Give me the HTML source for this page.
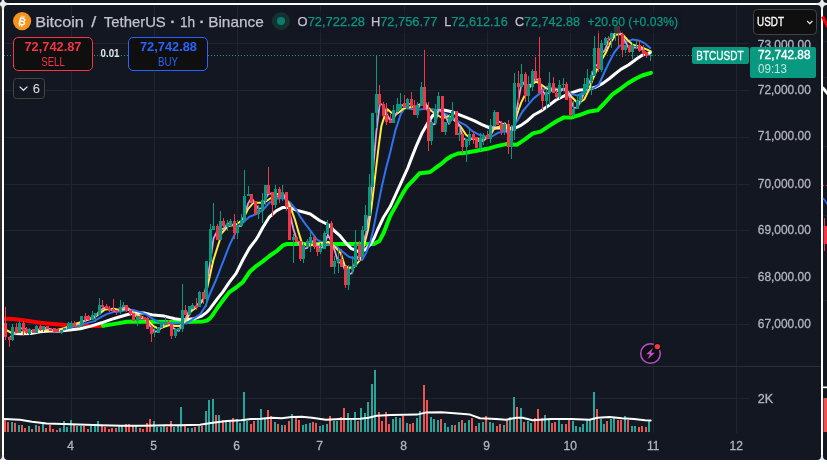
<!DOCTYPE html>
<html><head><meta charset="utf-8"><title>BTCUSDT</title>
<style>html,body{margin:0;padding:0;background:#fff;width:827px;height:464px;overflow:hidden;font-family:"Liberation Sans",sans-serif}</style></head>
<body>
<svg width="827" height="464" viewBox="0 0 827 464" style="display:block;position:absolute;left:0;top:0;will-change:transform;filter:opacity(0.9999)" font-family="Liberation Sans, sans-serif">
<rect x="0" y="0" width="827" height="464" fill="#ffffff"/>
<rect x="-3" y="-2" width="12" height="12" fill="#ececec"/>
<rect x="816" y="-2" width="12" height="12" fill="#ececec"/>
<rect x="-3" y="455" width="12" height="12" fill="#ececec"/>
<rect x="816" y="455" width="12" height="12" fill="#ececec"/>
<rect x="0" y="460" width="827" height="4" fill="#ffffff"/>
<rect x="-20" y="-20" width="22" height="23" rx="4" fill="#131722"/>
<rect x="4" y="-20" width="817" height="23" rx="4" fill="#131722"/>
<rect x="823" y="-20" width="30" height="23" rx="4" fill="#131722"/>
<rect x="-20" y="5" width="22" height="455" rx="4" fill="#2e2e2e"/>
<rect x="823" y="5" width="30" height="455" rx="4" fill="#131722"/>
<g>
<rect x="823" y="41" width="4" height="1" fill="#20242f"/><rect x="823" y="77" width="4" height="1" fill="#20242f"/><rect x="823" y="146" width="4" height="1" fill="#20242f"/><rect x="823" y="215" width="4" height="1" fill="#20242f"/><rect x="823" y="300" width="4" height="1" fill="#20242f"/>
<path d="M822.5 16.5 L828 27" stroke="#ff0000" stroke-width="3.2" fill="none"/>
<path d="M822.5 87.5 L828 94" stroke="#ffffff" stroke-width="3" fill="none"/>
<path d="M823 185.5H827" stroke="#f23645" stroke-width="1" stroke-dasharray="1 2"/>
<path d="M823 198 L828 205" stroke="#2a6ef0" stroke-width="1.5" fill="none"/>
<rect x="824" y="218" width="1" height="33" fill="#f23645"/><rect x="823.6" y="226" width="4" height="18" fill="#f23645"/>
<rect x="823.5" y="398" width="4" height="34" fill="#ef5350"/>
<rect x="823" y="386.5" width="4" height="1.7" fill="#ffffff"/>
</g>
<rect x="4" y="5" width="817" height="455" rx="4" fill="#131722"/>
<clipPath id="cp"><rect x="4" y="5" width="745.5" height="427.5"/></clipPath>
<rect x="71" y="5" width="1" height="428" fill="#20242f"/>
<rect x="154" y="5" width="1" height="428" fill="#20242f"/>
<rect x="237" y="5" width="1" height="428" fill="#20242f"/>
<rect x="320" y="5" width="1" height="428" fill="#20242f"/>
<rect x="404" y="5" width="1" height="428" fill="#20242f"/>
<rect x="487" y="5" width="1" height="428" fill="#20242f"/>
<rect x="570" y="5" width="1" height="428" fill="#20242f"/>
<rect x="653" y="5" width="1" height="428" fill="#20242f"/>
<rect x="736" y="5" width="1" height="428" fill="#20242f"/>
<rect x="4" y="43" width="745" height="1" fill="#20242f"/>
<rect x="4" y="90" width="745" height="1" fill="#20242f"/>
<rect x="4" y="137" width="745" height="1" fill="#20242f"/>
<rect x="4" y="184" width="745" height="1" fill="#20242f"/>
<rect x="4" y="230" width="745" height="1" fill="#20242f"/>
<rect x="4" y="277" width="745" height="1" fill="#20242f"/>
<rect x="4" y="324" width="745" height="1" fill="#20242f"/>
<rect x="4" y="398" width="745" height="1" fill="#20242f"/>
<rect x="4" y="366" width="817" height="1" fill="#2a2e39"/>
<g clip-path="url(#cp)">
<rect x="4" y="420" width="2" height="12" fill="#ef5350"/>
<rect x="7" y="422" width="2" height="10" fill="#ef5350"/>
<rect x="11" y="422" width="2" height="10" fill="#26a69a"/>
<rect x="14" y="423" width="2" height="9" fill="#ef5350"/>
<rect x="18" y="425" width="2" height="7" fill="#26a69a"/>
<rect x="21" y="425" width="2" height="7" fill="#ef5350"/>
<rect x="24" y="428" width="2" height="4" fill="#ef5350"/>
<rect x="28" y="426" width="2" height="6" fill="#26a69a"/>
<rect x="31" y="429" width="2" height="3" fill="#ef5350"/>
<rect x="35" y="425" width="2" height="7" fill="#26a69a"/>
<rect x="38" y="426" width="2" height="6" fill="#ef5350"/>
<rect x="42" y="424" width="2" height="8" fill="#26a69a"/>
<rect x="45" y="428" width="2" height="4" fill="#ef5350"/>
<rect x="49" y="425" width="2" height="7" fill="#ef5350"/>
<rect x="52" y="429" width="2" height="3" fill="#ef5350"/>
<rect x="56" y="430" width="2" height="2" fill="#ef5350"/>
<rect x="59" y="428" width="2" height="4" fill="#26a69a"/>
<rect x="63" y="421" width="2" height="11" fill="#26a69a"/>
<rect x="66" y="427" width="2" height="5" fill="#26a69a"/>
<rect x="70" y="420" width="2" height="12" fill="#26a69a"/>
<rect x="73" y="425" width="2" height="7" fill="#ef5350"/>
<rect x="76" y="426" width="2" height="6" fill="#26a69a"/>
<rect x="80" y="426" width="2" height="6" fill="#26a69a"/>
<rect x="83" y="426" width="2" height="6" fill="#ef5350"/>
<rect x="87" y="429" width="2" height="3" fill="#ef5350"/>
<rect x="90" y="426" width="2" height="6" fill="#26a69a"/>
<rect x="94" y="426" width="2" height="6" fill="#26a69a"/>
<rect x="97" y="421" width="2" height="11" fill="#26a69a"/>
<rect x="101" y="426" width="2" height="6" fill="#ef5350"/>
<rect x="104" y="427" width="2" height="5" fill="#ef5350"/>
<rect x="108" y="429" width="2" height="3" fill="#ef5350"/>
<rect x="111" y="428" width="2" height="4" fill="#ef5350"/>
<rect x="115" y="428" width="2" height="4" fill="#ef5350"/>
<rect x="118" y="426" width="2" height="6" fill="#26a69a"/>
<rect x="121" y="426" width="2" height="6" fill="#26a69a"/>
<rect x="125" y="424" width="2" height="8" fill="#ef5350"/>
<rect x="128" y="424" width="2" height="8" fill="#ef5350"/>
<rect x="132" y="426" width="2" height="6" fill="#ef5350"/>
<rect x="135" y="426" width="2" height="6" fill="#26a69a"/>
<rect x="139" y="428" width="2" height="4" fill="#ef5350"/>
<rect x="142" y="429" width="2" height="3" fill="#ef5350"/>
<rect x="146" y="423" width="2" height="9" fill="#ef5350"/>
<rect x="149" y="419" width="2" height="13" fill="#ef5350"/>
<rect x="153" y="421" width="2" height="11" fill="#26a69a"/>
<rect x="156" y="427" width="2" height="5" fill="#26a69a"/>
<rect x="160" y="427" width="2" height="5" fill="#26a69a"/>
<rect x="163" y="426" width="2" height="6" fill="#26a69a"/>
<rect x="166" y="427" width="2" height="5" fill="#ef5350"/>
<rect x="170" y="421" width="2" height="11" fill="#ef5350"/>
<rect x="173" y="427" width="2" height="5" fill="#26a69a"/>
<rect x="177" y="426" width="2" height="6" fill="#26a69a"/>
<rect x="180" y="407" width="2" height="25" fill="#26a69a"/>
<rect x="184" y="426" width="2" height="6" fill="#ef5350"/>
<rect x="187" y="428" width="2" height="4" fill="#26a69a"/>
<rect x="191" y="428" width="2" height="4" fill="#26a69a"/>
<rect x="194" y="427" width="2" height="5" fill="#ef5350"/>
<rect x="198" y="426" width="2" height="6" fill="#26a69a"/>
<rect x="201" y="426" width="2" height="6" fill="#ef5350"/>
<rect x="205" y="411" width="2" height="21" fill="#26a69a"/>
<rect x="208" y="400" width="2" height="32" fill="#26a69a"/>
<rect x="212" y="399" width="2" height="33" fill="#26a69a"/>
<rect x="215" y="415" width="2" height="17" fill="#ef5350"/>
<rect x="218" y="415" width="2" height="17" fill="#26a69a"/>
<rect x="222" y="420" width="2" height="12" fill="#ef5350"/>
<rect x="225" y="420" width="2" height="12" fill="#26a69a"/>
<rect x="229" y="420" width="2" height="12" fill="#26a69a"/>
<rect x="232" y="418" width="2" height="14" fill="#ef5350"/>
<rect x="236" y="419" width="2" height="13" fill="#26a69a"/>
<rect x="239" y="423" width="2" height="9" fill="#26a69a"/>
<rect x="243" y="392" width="2" height="40" fill="#26a69a"/>
<rect x="246" y="421" width="2" height="11" fill="#26a69a"/>
<rect x="250" y="424" width="2" height="8" fill="#ef5350"/>
<rect x="253" y="421" width="2" height="11" fill="#ef5350"/>
<rect x="257" y="420" width="2" height="12" fill="#26a69a"/>
<rect x="260" y="409" width="2" height="23" fill="#26a69a"/>
<rect x="264" y="419" width="2" height="13" fill="#26a69a"/>
<rect x="267" y="410" width="2" height="22" fill="#ef5350"/>
<rect x="270" y="416" width="2" height="16" fill="#ef5350"/>
<rect x="274" y="422" width="2" height="10" fill="#26a69a"/>
<rect x="277" y="424" width="2" height="8" fill="#ef5350"/>
<rect x="281" y="425" width="2" height="7" fill="#26a69a"/>
<rect x="284" y="425" width="2" height="7" fill="#ef5350"/>
<rect x="288" y="421" width="2" height="11" fill="#ef5350"/>
<rect x="291" y="414" width="2" height="18" fill="#26a69a"/>
<rect x="295" y="418" width="2" height="14" fill="#ef5350"/>
<rect x="298" y="420" width="2" height="12" fill="#ef5350"/>
<rect x="302" y="425" width="2" height="7" fill="#26a69a"/>
<rect x="305" y="424" width="2" height="8" fill="#26a69a"/>
<rect x="309" y="423" width="2" height="9" fill="#26a69a"/>
<rect x="312" y="422" width="2" height="10" fill="#ef5350"/>
<rect x="315" y="423" width="2" height="9" fill="#ef5350"/>
<rect x="319" y="426" width="2" height="6" fill="#26a69a"/>
<rect x="322" y="425" width="2" height="7" fill="#26a69a"/>
<rect x="326" y="424" width="2" height="8" fill="#26a69a"/>
<rect x="329" y="416" width="2" height="16" fill="#ef5350"/>
<rect x="333" y="421" width="2" height="11" fill="#26a69a"/>
<rect x="336" y="421" width="2" height="11" fill="#26a69a"/>
<rect x="340" y="417" width="2" height="15" fill="#ef5350"/>
<rect x="343" y="408" width="2" height="24" fill="#ef5350"/>
<rect x="347" y="413" width="2" height="19" fill="#26a69a"/>
<rect x="350" y="420" width="2" height="12" fill="#26a69a"/>
<rect x="354" y="412" width="2" height="20" fill="#26a69a"/>
<rect x="357" y="421" width="2" height="11" fill="#ef5350"/>
<rect x="360" y="408" width="2" height="24" fill="#26a69a"/>
<rect x="364" y="413" width="2" height="19" fill="#26a69a"/>
<rect x="367" y="402" width="2" height="30" fill="#26a69a"/>
<rect x="371" y="384" width="2" height="48" fill="#26a69a"/>
<rect x="374" y="370" width="2" height="62" fill="#26a69a"/>
<rect x="378" y="412" width="2" height="20" fill="#ef5350"/>
<rect x="381" y="421" width="2" height="11" fill="#ef5350"/>
<rect x="385" y="412" width="2" height="20" fill="#ef5350"/>
<rect x="388" y="424" width="2" height="8" fill="#ef5350"/>
<rect x="392" y="419" width="2" height="13" fill="#26a69a"/>
<rect x="395" y="417" width="2" height="15" fill="#26a69a"/>
<rect x="399" y="418" width="2" height="14" fill="#26a69a"/>
<rect x="402" y="416" width="2" height="16" fill="#ef5350"/>
<rect x="406" y="423" width="2" height="9" fill="#26a69a"/>
<rect x="409" y="424" width="2" height="8" fill="#ef5350"/>
<rect x="412" y="423" width="2" height="9" fill="#ef5350"/>
<rect x="416" y="418" width="2" height="14" fill="#26a69a"/>
<rect x="419" y="411" width="2" height="21" fill="#26a69a"/>
<rect x="423" y="385" width="2" height="47" fill="#ef5350"/>
<rect x="426" y="400" width="2" height="32" fill="#ef5350"/>
<rect x="430" y="417" width="2" height="15" fill="#26a69a"/>
<rect x="433" y="419" width="2" height="13" fill="#26a69a"/>
<rect x="437" y="420" width="2" height="12" fill="#26a69a"/>
<rect x="440" y="419" width="2" height="13" fill="#ef5350"/>
<rect x="444" y="423" width="2" height="9" fill="#26a69a"/>
<rect x="447" y="427" width="2" height="5" fill="#26a69a"/>
<rect x="451" y="425" width="2" height="7" fill="#26a69a"/>
<rect x="454" y="425" width="2" height="7" fill="#ef5350"/>
<rect x="458" y="422" width="2" height="10" fill="#26a69a"/>
<rect x="461" y="420" width="2" height="12" fill="#ef5350"/>
<rect x="464" y="423" width="2" height="9" fill="#26a69a"/>
<rect x="468" y="420" width="2" height="12" fill="#26a69a"/>
<rect x="471" y="418" width="2" height="14" fill="#ef5350"/>
<rect x="475" y="426" width="2" height="6" fill="#ef5350"/>
<rect x="478" y="423" width="2" height="9" fill="#26a69a"/>
<rect x="482" y="422" width="2" height="10" fill="#26a69a"/>
<rect x="485" y="416" width="2" height="16" fill="#ef5350"/>
<rect x="489" y="422" width="2" height="10" fill="#26a69a"/>
<rect x="492" y="423" width="2" height="9" fill="#26a69a"/>
<rect x="496" y="426" width="2" height="6" fill="#ef5350"/>
<rect x="499" y="424" width="2" height="8" fill="#ef5350"/>
<rect x="503" y="425" width="2" height="7" fill="#26a69a"/>
<rect x="506" y="420" width="2" height="12" fill="#ef5350"/>
<rect x="509" y="417" width="2" height="15" fill="#26a69a"/>
<rect x="513" y="397" width="2" height="35" fill="#26a69a"/>
<rect x="516" y="407" width="2" height="25" fill="#ef5350"/>
<rect x="520" y="408" width="2" height="24" fill="#26a69a"/>
<rect x="523" y="422" width="2" height="10" fill="#ef5350"/>
<rect x="527" y="421" width="2" height="11" fill="#26a69a"/>
<rect x="530" y="423" width="2" height="9" fill="#26a69a"/>
<rect x="534" y="418" width="2" height="14" fill="#ef5350"/>
<rect x="537" y="409" width="2" height="23" fill="#ef5350"/>
<rect x="541" y="418" width="2" height="14" fill="#ef5350"/>
<rect x="544" y="415" width="2" height="17" fill="#26a69a"/>
<rect x="548" y="420" width="2" height="12" fill="#26a69a"/>
<rect x="551" y="423" width="2" height="9" fill="#ef5350"/>
<rect x="554" y="422" width="2" height="10" fill="#ef5350"/>
<rect x="558" y="420" width="2" height="12" fill="#26a69a"/>
<rect x="561" y="424" width="2" height="8" fill="#26a69a"/>
<rect x="565" y="424" width="2" height="8" fill="#ef5350"/>
<rect x="568" y="420" width="2" height="12" fill="#ef5350"/>
<rect x="572" y="421" width="2" height="11" fill="#26a69a"/>
<rect x="575" y="426" width="2" height="6" fill="#26a69a"/>
<rect x="579" y="427" width="2" height="5" fill="#26a69a"/>
<rect x="582" y="424" width="2" height="8" fill="#26a69a"/>
<rect x="586" y="420" width="2" height="12" fill="#26a69a"/>
<rect x="589" y="420" width="2" height="12" fill="#26a69a"/>
<rect x="593" y="392" width="2" height="40" fill="#26a69a"/>
<rect x="596" y="409" width="2" height="23" fill="#ef5350"/>
<rect x="600" y="419" width="2" height="13" fill="#26a69a"/>
<rect x="603" y="424" width="2" height="8" fill="#26a69a"/>
<rect x="606" y="421" width="2" height="11" fill="#ef5350"/>
<rect x="610" y="419" width="2" height="13" fill="#26a69a"/>
<rect x="613" y="418" width="2" height="14" fill="#26a69a"/>
<rect x="617" y="420" width="2" height="12" fill="#ef5350"/>
<rect x="620" y="420" width="2" height="12" fill="#ef5350"/>
<rect x="624" y="416" width="2" height="16" fill="#26a69a"/>
<rect x="627" y="420" width="2" height="12" fill="#ef5350"/>
<rect x="631" y="426" width="2" height="6" fill="#26a69a"/>
<rect x="634" y="426" width="2" height="6" fill="#26a69a"/>
<rect x="638" y="427" width="2" height="5" fill="#ef5350"/>
<rect x="641" y="426" width="2" height="6" fill="#ef5350"/>
<rect x="645" y="427" width="2" height="5" fill="#ef5350"/>
<rect x="648" y="421" width="2" height="11" fill="#26a69a"/>
<path d="M4.5 419.1 L20.0 419.7 L32.0 421.7 L46.6 423.4 L71.0 424.2 L101.0 425.2 L121.6 425.8 L142.0 425.8 L166.0 425.2 L180.0 425.2 L200.0 424.8 L212.7 422.7 L226.9 421.1 L241.0 420.3 L251.0 419.1 L261.0 418.7 L271.5 417.7 L281.6 418.3 L291.7 417.1 L301.9 416.7 L312.0 417.7 L326.0 419.7 L340.0 419.1 L360.0 418.7 L368.6 417.7 L376.7 415.7 L391.0 415.0 L417.0 414.6 L425.4 412.6 L441.6 412.2 L457.8 413.6 L470.0 414.6 L480.0 418.3 L486.0 418.5 L496.0 419.1 L506.0 419.7 L516.5 417.7 L522.5 417.7 L532.7 420.3 L551.0 419.1 L571.0 419.1 L589.4 419.7 L597.5 417.7 L609.7 417.1 L621.9 418.3 L634.0 419.1 L645.0 420.3 L650.7 420.4" fill="none" stroke="#ffffff" stroke-width="2" stroke-linejoin="round" stroke-linecap="round" />
<path d="M4 55.5H821" stroke="#089981" stroke-width="1" stroke-dasharray="1 2"/>
<path d="M4.7 318.7 L13.4 319.0 L26.7 320.7 L40.1 322.7 L53.5 324.1 L65.5 325.1 L80.0 325.8 L93.6 326.1 L103.5 325.8" fill="none" stroke="#ff0000" stroke-width="4" stroke-linejoin="round" stroke-linecap="round" />
<path d="M103.0 325.8 L113.4 324.1 L126.7 321.8 L140.1 321.4 L153.5 321.8 L166.8 322.1 L180.2 322.1 L193.6 321.8 L203.0 321.4 L207.0 320.5 L210.0 318.4 L213.0 314.5 L218.0 307.0 L224.7 298.0 L229.4 292.1 L236.1 287.5 L242.8 282.1 L249.5 272.1 L256.2 266.1 L262.8 261.4 L269.5 256.0 L276.2 251.4 L282.9 245.4 L286.9 244.0 L306.0 244.0 L340.0 244.0 L374.0 244.0 L379.6 240.7 L383.6 233.0 L390.1 216.1 L396.8 204.1 L403.5 192.1 L407.5 186.0 L412.8 180.7 L419.5 173.3 L424.9 172.7 L430.2 172.0 L435.5 168.0 L440.9 164.2 L446.3 159.5 L451.6 156.0 L458.0 153.5 L466.0 152.8 L476.7 150.8 L487.4 148.8 L496.8 146.1 L506.1 144.1 L516.8 144.8 L524.9 139.4 L532.9 133.4 L540.5 131.6 L548.5 126.4 L556.0 121.5 L564.0 117.4 L572.0 117.4 L580.0 114.8 L589.5 111.4 L597.5 110.3 L604.2 103.5 L612.2 94.7 L620.2 89.0 L627.5 83.5 L635.5 78.7 L642.2 75.5 L650.9 72.8" fill="none" stroke="#00ff00" stroke-width="4" stroke-linejoin="round" stroke-linecap="round" />
<path d="M12.4 333.6 L14.4 333.6 L21.4 333.8 L30.7 333.4 L40.1 331.8 L49.5 331.0 L60.2 331.0 L69.5 330.1 L80.2 328.8 L90.9 326.1 L101.6 322.8 L113.4 318.7 L126.7 314.7 L134.8 312.7 L144.1 313.0 L153.5 315.1 L164.2 316.1 L174.9 318.7 L182.9 320.1 L193.6 318.7 L201.6 316.1 L207.0 312.1 L210.0 308.7 L218.0 298.0 L222.7 292.1 L229.4 282.1 L236.1 273.4 L242.8 260.0 L249.5 248.0 L256.2 239.3 L258.2 236.0 L262.8 227.5 L269.5 216.8 L276.2 210.8 L282.9 207.4 L289.6 207.4 L296.3 210.1 L306.0 212.8 L310.3 214.0 L319.6 220.5 L328.8 225.0 L334.0 230.5 L339.5 235.3 L346.2 243.4 L351.5 248.7 L358.2 251.4 L364.9 250.0 L370.2 244.7 L374.2 238.0 L377.5 230.0 L383.4 217.5 L390.1 206.8 L396.8 192.1 L403.5 177.4 L407.8 168.0 L411.5 158.1 L416.8 144.8 L422.2 132.7 L427.5 123.4 L432.9 115.4 L438.2 110.7 L443.6 110.0 L451.0 111.5 L459.0 114.6 L466.0 117.4 L474.0 120.7 L482.0 124.7 L490.0 128.0 L498.0 128.0 L506.0 127.4 L514.0 128.7 L520.9 125.4 L527.5 120.7 L534.2 114.7 L541.0 111.0 L548.0 106.1 L556.0 100.0 L564.0 96.0 L572.0 92.7 L580.0 90.0 L588.0 89.4 L596.0 87.0 L602.8 83.4 L609.5 78.5 L614.9 74.0 L620.8 69.4 L628.8 64.8 L636.8 58.8 L642.9 54.7 L650.2 52.7" fill="none" stroke="#ffffff" stroke-width="3" stroke-linejoin="round" stroke-linecap="round" />
<path d="M62.0 329.3 L68.0 328.3 L75.0 326.0 L85.6 323.4 L93.6 321.4 L100.5 317.4 L106.7 314.1 L113.4 312.1 L120.0 311.4 L126.7 310.0 L133.4 310.0 L140.1 312.1 L146.8 314.7 L153.5 319.4 L160.2 322.8 L166.8 322.8 L173.5 323.4 L180.2 323.4 L186.9 323.2 L193.6 318.7 L200.3 314.1 L205.6 306.0 L209.0 296.0 L216.0 280.0 L222.7 262.7 L229.4 245.4 L234.4 235.0 L238.0 227.0 L242.8 222.8 L249.5 216.8 L256.2 214.1 L262.8 210.1 L269.5 202.7 L276.2 198.7 L282.9 198.0 L289.6 202.0 L296.3 210.0 L300.3 216.8 L306.0 224.8 L310.0 230.0 L316.7 239.4 L323.4 243.4 L330.1 244.7 L336.8 246.7 L342.1 251.4 L348.8 256.7 L355.5 258.7 L362.2 260.0 L366.2 252.7 L370.2 242.0 L373.2 230.0 L376.7 212.1 L382.1 185.4 L386.1 168.0 L390.1 152.8 L395.5 130.1 L400.8 114.0 L404.8 108.0 L410.2 108.7 L416.8 110.0 L424.9 108.7 L432.9 109.3 L440.9 111.3 L448.9 115.8 L457.0 120.9 L466.0 125.4 L472.7 131.4 L479.4 134.8 L486.0 136.8 L492.8 136.0 L498.0 132.8 L504.8 131.4 L510.0 131.4 L514.0 126.0 L518.0 119.4 L522.5 111.5 L527.0 106.1 L533.4 98.6 L540.0 93.4 L546.8 86.8 L553.5 88.1 L560.0 89.4 L566.8 91.4 L572.2 94.1 L577.5 95.5 L582.9 92.8 L588.2 89.4 L593.6 88.1 L598.8 84.8 L603.8 73.5 L609.0 62.5 L614.1 52.7 L619.5 46.0 L626.1 42.0 L632.8 39.4 L639.5 40.7 L644.9 43.4 L650.2 48.0" fill="none" stroke="#2f72f2" stroke-width="2" stroke-linejoin="round" stroke-linecap="round" />
<path d="M6.0 330.0 L12.0 333.0 L25.0 332.0 L40.0 330.0 L55.0 330.5 L65.0 328.0 L75.0 324.0 L83.0 321.4 L93.6 318.0 L100.8 312.6 L105.0 309.4 L113.4 308.7 L120.0 310.0 L126.7 308.7 L133.4 312.7 L140.1 316.1 L146.8 319.4 L153.5 326.1 L158.8 328.8 L164.2 326.8 L169.5 325.0 L174.9 326.1 L180.2 326.1 L185.6 320.7 L190.9 311.4 L196.3 307.4 L201.6 302.0 L205.6 294.0 L207.4 286.8 L213.4 260.0 L219.4 241.3 L221.4 233.5 L228.0 226.1 L236.1 224.8 L242.8 219.5 L248.1 208.8 L253.5 202.7 L258.8 202.7 L264.2 202.7 L270.9 198.0 L277.5 194.0 L284.2 196.0 L289.6 204.7 L294.9 219.5 L298.2 231.0 L302.0 243.4 L308.7 245.4 L315.4 244.7 L322.1 242.7 L328.8 242.0 L335.5 247.4 L340.8 253.4 L344.8 266.0 L348.8 268.0 L354.2 266.8 L359.5 260.7 L363.5 247.4 L368.0 230.0 L371.4 208.1 L374.1 185.4 L376.1 168.0 L378.7 146.1 L381.4 126.0 L384.8 115.4 L387.4 109.3 L391.4 112.7 L395.5 114.7 L399.5 112.0 L403.5 108.4 L408.8 107.5 L416.8 106.0 L422.2 103.5 L426.2 104.8 L430.2 110.0 L435.6 114.0 L442.2 118.0 L448.9 116.3 L454.8 120.5 L460.7 126.7 L466.0 134.8 L471.4 138.8 L476.7 138.8 L484.8 138.8 L490.0 136.0 L494.0 128.7 L499.5 126.7 L504.8 123.4 L508.8 128.7 L512.8 130.0 L516.2 117.4 L518.5 110.0 L521.4 102.1 L525.4 94.1 L530.7 85.4 L536.1 81.4 L541.4 84.8 L546.8 88.8 L553.5 89.4 L558.8 90.1 L564.2 88.8 L568.2 92.8 L572.2 97.5 L576.2 101.5 L580.2 102.1 L584.2 99.5 L588.6 90.5 L592.4 80.0 L596.5 70.5 L601.6 60.0 L605.6 53.0 L610.1 43.4 L615.5 34.7 L622.1 34.0 L627.5 40.0 L632.8 44.7 L639.5 46.7 L644.9 48.7 L650.9 51.4" fill="none" stroke="#ffeb3b" stroke-width="2" stroke-linejoin="round" stroke-linecap="round" />
<path d="M9.1 338.7 L12.6 334.8 L16.1 333.3 L19.5 327.5 L23.0 329.0 L26.5 329.2 L29.9 331.2 L33.4 331.7 L36.9 329.2 L40.3 329.6 L43.8 327.5 L47.2 328.6 L50.7 329.1 L54.2 330.9 L57.6 331.7 L61.1 331.3 L64.6 329.9 L68.0 326.9 L71.5 324.7 L75.0 324.5 L78.4 325.2 L81.9 322.7 L85.4 320.0 L88.8 318.5 L92.3 318.0 L95.8 316.0 L99.2 311.2 L102.7 308.7 L106.1 307.4 L109.6 309.3 L113.1 310.4 L116.5 311.3 L120.0 309.9 L123.5 307.9 L126.9 307.5 L130.4 309.8 L133.9 315.1 L137.3 316.9 L140.8 318.3 L144.2 318.1 L147.7 322.4 L151.2 327.6 L154.6 331.7 L158.1 331.2 L161.6 327.2 L165.0 323.8 L168.5 322.8 L172.0 327.3 L175.4 329.6 L178.9 330.9 L182.4 322.4 L185.8 318.0 L189.3 310.5 L192.8 308.8 L196.2 306.3 L199.7 301.8 L203.1 299.9 L206.6 284.2 L210.1 263.0 L213.5 238.5 L217.0 231.6 L220.5 229.0 L223.9 229.0 L227.4 223.7 L230.9 223.8 L234.3 226.0 L237.8 226.2 L241.2 225.9 L244.7 213.7 L248.2 203.4 L251.6 197.6 L255.1 203.6 L258.6 208.9 L262.0 208.0 L265.5 198.3 L269.0 193.0 L272.4 194.6 L275.9 195.9 L279.4 197.2 L282.8 192.9 L286.3 199.1 L289.8 213.1 L293.2 228.3 L296.7 239.8 L300.1 246.0 L303.6 248.5 L307.1 248.1 L310.5 241.0 L314.0 241.7 L317.5 245.4 L320.9 248.9 L324.4 244.4 L327.9 234.8 L331.3 241.3 L334.8 250.7 L338.2 262.5 L341.7 262.5 L345.2 270.3 L348.6 273.9 L352.1 273.3 L355.6 259.7 L359.0 255.7 L362.5 243.6 L366.0 233.9 L369.4 210.6 L372.9 171.6 L376.4 131.4 L379.8 103.9 L383.3 105.0 L386.8 114.3 L390.2 120.5 L393.7 118.5 L397.1 112.3 L400.6 105.7 L404.1 105.0 L407.5 103.4 L411.0 104.3 L414.5 106.7 L417.9 108.7 L421.4 102.5 L424.9 100.7 L428.3 112.9 L431.8 124.5 L435.2 124.0 L438.7 108.7 L442.2 112.1 L445.6 116.5 L449.1 123.8 L452.6 116.7 L456.0 121.0 L459.5 126.3 L463.0 138.3 L466.4 139.9 L469.9 140.1 L473.4 137.4 L476.8 140.3 L480.3 141.6 L483.8 140.5 L487.2 137.4 L490.7 133.2 L494.1 125.4 L497.6 120.9 L501.1 122.7 L504.5 126.7 L508.0 133.8 L511.5 134.1 L514.9 120.3 L518.4 100.3 L521.9 81.2 L525.3 85.6 L528.8 85.1 L532.2 84.0 L535.7 78.3 L539.2 80.9 L542.6 91.0 L546.1 95.4 L549.6 91.9 L553.0 89.4 L556.5 91.0 L560.0 91.9 L563.4 88.7 L566.9 89.6 L570.4 99.4 L573.8 107.7 L577.3 107.9 L580.8 100.9 L584.2 92.7 L587.7 85.3 L591.1 78.9 L594.6 66.9 L598.1 64.0 L601.5 53.6 L605.0 50.2 L608.5 40.2 L611.9 36.6 L615.4 32.5 L618.9 30.3 L622.3 36.0 L625.8 42.7 L629.2 49.1 L632.7 47.4 L636.2 47.6 L639.6 47.4 L643.1 50.5 L646.6 53.8 L650.0 55.0" fill="none" stroke="#d69de0" stroke-width="1.8" stroke-linejoin="round" stroke-linecap="round" />
<rect x="5" y="307" width="1" height="33" fill="#f23645"/>
<rect x="4" y="323" width="3" height="14" fill="#f23645"/>
<rect x="9" y="337" width="1" height="10" fill="#f23645"/>
<rect x="8" y="337" width="3" height="3" fill="#f23645"/>
<rect x="12" y="324" width="1" height="17" fill="#089981"/>
<rect x="11" y="327" width="3" height="13" fill="#089981"/>
<rect x="16" y="323" width="1" height="10" fill="#f23645"/>
<rect x="15" y="327" width="3" height="6" fill="#f23645"/>
<rect x="19" y="321" width="1" height="12" fill="#089981"/>
<rect x="18" y="323" width="3" height="10" fill="#089981"/>
<rect x="23" y="321" width="1" height="15" fill="#f23645"/>
<rect x="22" y="323" width="3" height="8" fill="#f23645"/>
<rect x="26" y="327" width="1" height="7" fill="#f23645"/>
<rect x="25" y="329" width="3" height="4" fill="#f23645"/>
<rect x="29" y="328" width="1" height="7" fill="#089981"/>
<rect x="28" y="329" width="3" height="5" fill="#089981"/>
<rect x="33" y="329" width="1" height="4" fill="#f23645"/>
<rect x="32" y="329" width="3" height="4" fill="#f23645"/>
<rect x="36" y="325" width="1" height="8" fill="#089981"/>
<rect x="35" y="326" width="3" height="7" fill="#089981"/>
<rect x="40" y="325" width="1" height="6" fill="#f23645"/>
<rect x="39" y="326" width="3" height="4" fill="#f23645"/>
<rect x="43" y="326" width="1" height="6" fill="#089981"/>
<rect x="42" y="326" width="3" height="4" fill="#089981"/>
<rect x="47" y="326" width="1" height="3" fill="#f23645"/>
<rect x="46" y="326" width="3" height="3" fill="#f23645"/>
<rect x="50" y="329" width="1" height="2" fill="#f23645"/>
<rect x="49" y="329" width="3" height="2" fill="#f23645"/>
<rect x="54" y="328" width="1" height="4" fill="#f23645"/>
<rect x="53" y="328" width="3" height="4" fill="#f23645"/>
<rect x="57" y="329" width="1" height="3" fill="#f23645"/>
<rect x="56" y="329" width="3" height="3" fill="#f23645"/>
<rect x="61" y="330" width="1" height="4" fill="#089981"/>
<rect x="60" y="330" width="3" height="3" fill="#089981"/>
<rect x="64" y="328" width="1" height="2" fill="#089981"/>
<rect x="63" y="328" width="3" height="2" fill="#089981"/>
<rect x="68" y="322" width="1" height="7" fill="#089981"/>
<rect x="67" y="323" width="3" height="6" fill="#089981"/>
<rect x="71" y="321" width="1" height="6" fill="#089981"/>
<rect x="70" y="323" width="3" height="4" fill="#089981"/>
<rect x="74" y="321" width="1" height="6" fill="#f23645"/>
<rect x="73" y="323" width="3" height="4" fill="#f23645"/>
<rect x="78" y="325" width="1" height="2" fill="#089981"/>
<rect x="77" y="325" width="3" height="2" fill="#089981"/>
<rect x="81" y="316" width="1" height="11" fill="#089981"/>
<rect x="80" y="316" width="3" height="11" fill="#089981"/>
<rect x="85" y="313" width="1" height="8" fill="#f23645"/>
<rect x="84" y="316" width="3" height="3" fill="#f23645"/>
<rect x="88" y="315" width="1" height="5" fill="#f23645"/>
<rect x="87" y="316" width="3" height="4" fill="#f23645"/>
<rect x="92" y="311" width="1" height="9" fill="#089981"/>
<rect x="91" y="315" width="3" height="5" fill="#089981"/>
<rect x="95" y="313" width="1" height="9" fill="#089981"/>
<rect x="94" y="313" width="3" height="3" fill="#089981"/>
<rect x="99" y="298" width="1" height="17" fill="#089981"/>
<rect x="98" y="305" width="3" height="10" fill="#089981"/>
<rect x="102" y="300" width="1" height="8" fill="#f23645"/>
<rect x="101" y="305" width="3" height="2" fill="#f23645"/>
<rect x="106" y="304" width="1" height="5" fill="#f23645"/>
<rect x="105" y="306" width="3" height="3" fill="#f23645"/>
<rect x="109" y="306" width="1" height="6" fill="#f23645"/>
<rect x="108" y="308" width="3" height="3" fill="#f23645"/>
<rect x="113" y="299" width="1" height="12" fill="#f23645"/>
<rect x="112" y="309" width="3" height="2" fill="#f23645"/>
<rect x="116" y="310" width="1" height="5" fill="#f23645"/>
<rect x="115" y="310" width="3" height="2" fill="#f23645"/>
<rect x="120" y="300" width="1" height="14" fill="#089981"/>
<rect x="119" y="307" width="3" height="5" fill="#089981"/>
<rect x="123" y="302" width="1" height="5" fill="#089981"/>
<rect x="122" y="305" width="3" height="2" fill="#089981"/>
<rect x="126" y="305" width="1" height="7" fill="#f23645"/>
<rect x="125" y="305" width="3" height="6" fill="#f23645"/>
<rect x="130" y="310" width="1" height="6" fill="#f23645"/>
<rect x="129" y="310" width="3" height="4" fill="#f23645"/>
<rect x="133" y="313" width="1" height="8" fill="#f23645"/>
<rect x="132" y="313" width="3" height="8" fill="#f23645"/>
<rect x="137" y="316" width="1" height="10" fill="#089981"/>
<rect x="136" y="316" width="3" height="5" fill="#089981"/>
<rect x="140" y="315" width="1" height="4" fill="#f23645"/>
<rect x="139" y="316" width="3" height="2" fill="#f23645"/>
<rect x="144" y="317" width="1" height="3" fill="#f23645"/>
<rect x="143" y="317" width="3" height="3" fill="#f23645"/>
<rect x="147" y="317" width="1" height="12" fill="#f23645"/>
<rect x="146" y="318" width="3" height="11" fill="#f23645"/>
<rect x="151" y="327" width="1" height="15" fill="#f23645"/>
<rect x="150" y="327" width="3" height="7" fill="#f23645"/>
<rect x="154" y="328" width="1" height="9" fill="#089981"/>
<rect x="153" y="332" width="3" height="1" fill="#089981"/>
<rect x="158" y="327" width="1" height="6" fill="#089981"/>
<rect x="157" y="327" width="3" height="6" fill="#089981"/>
<rect x="161" y="322" width="1" height="6" fill="#089981"/>
<rect x="160" y="322" width="3" height="6" fill="#089981"/>
<rect x="165" y="317" width="1" height="8" fill="#089981"/>
<rect x="164" y="322" width="3" height="3" fill="#089981"/>
<rect x="168" y="320" width="1" height="4" fill="#f23645"/>
<rect x="167" y="322" width="3" height="2" fill="#f23645"/>
<rect x="171" y="324" width="1" height="15" fill="#f23645"/>
<rect x="170" y="324" width="3" height="12" fill="#f23645"/>
<rect x="175" y="329" width="1" height="9" fill="#089981"/>
<rect x="174" y="329" width="3" height="7" fill="#089981"/>
<rect x="178" y="328" width="1" height="3" fill="#089981"/>
<rect x="177" y="328" width="3" height="2" fill="#089981"/>
<rect x="182" y="284" width="1" height="48" fill="#089981"/>
<rect x="181" y="310" width="3" height="19" fill="#089981"/>
<rect x="185" y="305" width="1" height="10" fill="#f23645"/>
<rect x="184" y="310" width="3" height="5" fill="#f23645"/>
<rect x="189" y="306" width="1" height="9" fill="#089981"/>
<rect x="188" y="306" width="3" height="9" fill="#089981"/>
<rect x="192" y="303" width="1" height="6" fill="#089981"/>
<rect x="191" y="305" width="3" height="4" fill="#089981"/>
<rect x="196" y="298" width="1" height="12" fill="#f23645"/>
<rect x="195" y="305" width="3" height="3" fill="#f23645"/>
<rect x="199" y="291" width="1" height="16" fill="#089981"/>
<rect x="198" y="292" width="3" height="15" fill="#089981"/>
<rect x="203" y="292" width="1" height="12" fill="#f23645"/>
<rect x="202" y="292" width="3" height="7" fill="#f23645"/>
<rect x="206" y="261" width="1" height="46" fill="#089981"/>
<rect x="205" y="261" width="3" height="38" fill="#089981"/>
<rect x="210" y="224" width="1" height="41" fill="#089981"/>
<rect x="209" y="229" width="3" height="33" fill="#089981"/>
<rect x="213" y="203" width="1" height="27" fill="#089981"/>
<rect x="212" y="226" width="3" height="4" fill="#089981"/>
<rect x="217" y="224" width="1" height="16" fill="#f23645"/>
<rect x="216" y="226" width="3" height="14" fill="#f23645"/>
<rect x="220" y="211" width="1" height="29" fill="#089981"/>
<rect x="219" y="221" width="3" height="19" fill="#089981"/>
<rect x="223" y="218" width="1" height="10" fill="#f23645"/>
<rect x="222" y="221" width="3" height="5" fill="#f23645"/>
<rect x="227" y="220" width="1" height="11" fill="#089981"/>
<rect x="226" y="224" width="3" height="3" fill="#089981"/>
<rect x="230" y="219" width="1" height="7" fill="#089981"/>
<rect x="229" y="221" width="3" height="5" fill="#089981"/>
<rect x="234" y="214" width="1" height="25" fill="#f23645"/>
<rect x="233" y="221" width="3" height="12" fill="#f23645"/>
<rect x="237" y="220" width="1" height="19" fill="#089981"/>
<rect x="236" y="225" width="3" height="8" fill="#089981"/>
<rect x="241" y="214" width="1" height="12" fill="#089981"/>
<rect x="240" y="220" width="3" height="6" fill="#089981"/>
<rect x="244" y="170" width="1" height="51" fill="#089981"/>
<rect x="243" y="196" width="3" height="25" fill="#089981"/>
<rect x="248" y="186" width="1" height="10" fill="#089981"/>
<rect x="247" y="194" width="3" height="2" fill="#089981"/>
<rect x="251" y="194" width="1" height="10" fill="#f23645"/>
<rect x="250" y="194" width="3" height="9" fill="#f23645"/>
<rect x="255" y="201" width="1" height="14" fill="#f23645"/>
<rect x="254" y="201" width="3" height="13" fill="#f23645"/>
<rect x="258" y="205" width="1" height="14" fill="#089981"/>
<rect x="257" y="210" width="3" height="4" fill="#089981"/>
<rect x="262" y="193" width="1" height="30" fill="#089981"/>
<rect x="261" y="200" width="3" height="11" fill="#089981"/>
<rect x="265" y="185" width="1" height="20" fill="#089981"/>
<rect x="264" y="185" width="3" height="16" fill="#089981"/>
<rect x="268" y="167" width="1" height="27" fill="#f23645"/>
<rect x="267" y="185" width="3" height="9" fill="#f23645"/>
<rect x="272" y="192" width="1" height="25" fill="#f23645"/>
<rect x="271" y="192" width="3" height="13" fill="#f23645"/>
<rect x="275" y="185" width="1" height="23" fill="#089981"/>
<rect x="274" y="189" width="3" height="16" fill="#089981"/>
<rect x="279" y="187" width="1" height="16" fill="#f23645"/>
<rect x="278" y="189" width="3" height="9" fill="#f23645"/>
<rect x="282" y="185" width="1" height="16" fill="#089981"/>
<rect x="281" y="192" width="3" height="5" fill="#089981"/>
<rect x="286" y="192" width="1" height="19" fill="#f23645"/>
<rect x="285" y="192" width="3" height="15" fill="#f23645"/>
<rect x="289" y="207" width="1" height="33" fill="#f23645"/>
<rect x="288" y="207" width="3" height="33" fill="#f23645"/>
<rect x="293" y="234" width="1" height="29" fill="#089981"/>
<rect x="292" y="237" width="3" height="3" fill="#089981"/>
<rect x="296" y="237" width="1" height="5" fill="#f23645"/>
<rect x="295" y="237" width="3" height="5" fill="#f23645"/>
<rect x="300" y="241" width="1" height="20" fill="#f23645"/>
<rect x="299" y="241" width="3" height="18" fill="#f23645"/>
<rect x="303" y="243" width="1" height="20" fill="#089981"/>
<rect x="302" y="245" width="3" height="14" fill="#089981"/>
<rect x="307" y="239" width="1" height="8" fill="#089981"/>
<rect x="306" y="241" width="3" height="6" fill="#089981"/>
<rect x="310" y="231" width="1" height="21" fill="#089981"/>
<rect x="309" y="237" width="3" height="6" fill="#089981"/>
<rect x="314" y="237" width="1" height="12" fill="#f23645"/>
<rect x="313" y="237" width="3" height="10" fill="#f23645"/>
<rect x="317" y="246" width="1" height="10" fill="#f23645"/>
<rect x="316" y="246" width="3" height="6" fill="#f23645"/>
<rect x="320" y="243" width="1" height="11" fill="#089981"/>
<rect x="319" y="248" width="3" height="4" fill="#089981"/>
<rect x="324" y="231" width="1" height="18" fill="#089981"/>
<rect x="323" y="233" width="3" height="16" fill="#089981"/>
<rect x="327" y="220" width="1" height="14" fill="#089981"/>
<rect x="326" y="223" width="3" height="11" fill="#089981"/>
<rect x="331" y="221" width="1" height="46" fill="#f23645"/>
<rect x="330" y="223" width="3" height="44" fill="#f23645"/>
<rect x="334" y="256" width="1" height="18" fill="#089981"/>
<rect x="333" y="261" width="3" height="6" fill="#089981"/>
<rect x="338" y="249" width="1" height="24" fill="#089981"/>
<rect x="337" y="259" width="3" height="3" fill="#089981"/>
<rect x="341" y="249" width="1" height="18" fill="#f23645"/>
<rect x="340" y="259" width="3" height="8" fill="#f23645"/>
<rect x="345" y="266" width="1" height="22" fill="#f23645"/>
<rect x="344" y="266" width="3" height="19" fill="#f23645"/>
<rect x="348" y="265" width="1" height="25" fill="#089981"/>
<rect x="347" y="269" width="3" height="16" fill="#089981"/>
<rect x="352" y="256" width="1" height="18" fill="#089981"/>
<rect x="351" y="266" width="3" height="4" fill="#089981"/>
<rect x="355" y="230" width="1" height="37" fill="#089981"/>
<rect x="354" y="244" width="3" height="23" fill="#089981"/>
<rect x="359" y="241" width="1" height="20" fill="#f23645"/>
<rect x="358" y="244" width="3" height="13" fill="#f23645"/>
<rect x="362" y="226" width="1" height="31" fill="#089981"/>
<rect x="361" y="230" width="3" height="27" fill="#089981"/>
<rect x="365" y="205" width="1" height="26" fill="#089981"/>
<rect x="364" y="215" width="3" height="16" fill="#089981"/>
<rect x="369" y="174" width="1" height="42" fill="#089981"/>
<rect x="368" y="187" width="3" height="29" fill="#089981"/>
<rect x="372" y="113" width="1" height="74" fill="#089981"/>
<rect x="371" y="113" width="3" height="74" fill="#089981"/>
<rect x="376" y="55" width="1" height="73" fill="#089981"/>
<rect x="375" y="94" width="3" height="19" fill="#089981"/>
<rect x="379" y="85" width="1" height="20" fill="#f23645"/>
<rect x="378" y="94" width="3" height="11" fill="#f23645"/>
<rect x="383" y="102" width="1" height="14" fill="#f23645"/>
<rect x="382" y="104" width="3" height="12" fill="#f23645"/>
<rect x="386" y="103" width="1" height="22" fill="#f23645"/>
<rect x="385" y="115" width="3" height="7" fill="#f23645"/>
<rect x="390" y="114" width="1" height="9" fill="#f23645"/>
<rect x="389" y="120" width="3" height="3" fill="#f23645"/>
<rect x="393" y="105" width="1" height="18" fill="#089981"/>
<rect x="392" y="110" width="3" height="13" fill="#089981"/>
<rect x="397" y="98" width="1" height="14" fill="#089981"/>
<rect x="396" y="104" width="3" height="8" fill="#089981"/>
<rect x="400" y="93" width="1" height="16" fill="#089981"/>
<rect x="399" y="104" width="3" height="5" fill="#089981"/>
<rect x="404" y="95" width="1" height="13" fill="#f23645"/>
<rect x="403" y="103" width="3" height="5" fill="#f23645"/>
<rect x="407" y="98" width="1" height="11" fill="#089981"/>
<rect x="406" y="99" width="3" height="10" fill="#089981"/>
<rect x="411" y="92" width="1" height="17" fill="#f23645"/>
<rect x="410" y="99" width="3" height="7" fill="#f23645"/>
<rect x="414" y="100" width="1" height="15" fill="#f23645"/>
<rect x="413" y="105" width="3" height="10" fill="#f23645"/>
<rect x="417" y="102" width="1" height="16" fill="#089981"/>
<rect x="416" y="105" width="3" height="10" fill="#089981"/>
<rect x="421" y="82" width="1" height="24" fill="#089981"/>
<rect x="420" y="87" width="3" height="19" fill="#089981"/>
<rect x="424" y="50" width="1" height="60" fill="#f23645"/>
<rect x="423" y="87" width="3" height="23" fill="#f23645"/>
<rect x="428" y="102" width="1" height="49" fill="#f23645"/>
<rect x="427" y="109" width="3" height="32" fill="#f23645"/>
<rect x="431" y="122" width="1" height="23" fill="#089981"/>
<rect x="430" y="122" width="3" height="19" fill="#089981"/>
<rect x="435" y="104" width="1" height="21" fill="#089981"/>
<rect x="434" y="109" width="3" height="14" fill="#089981"/>
<rect x="438" y="92" width="1" height="17" fill="#089981"/>
<rect x="437" y="96" width="3" height="13" fill="#089981"/>
<rect x="442" y="96" width="1" height="36" fill="#f23645"/>
<rect x="441" y="96" width="3" height="36" fill="#f23645"/>
<rect x="445" y="122" width="1" height="13" fill="#089981"/>
<rect x="444" y="122" width="3" height="10" fill="#089981"/>
<rect x="449" y="114" width="1" height="11" fill="#089981"/>
<rect x="448" y="117" width="3" height="6" fill="#089981"/>
<rect x="452" y="102" width="1" height="18" fill="#089981"/>
<rect x="451" y="111" width="3" height="9" fill="#089981"/>
<rect x="456" y="111" width="1" height="24" fill="#f23645"/>
<rect x="455" y="111" width="3" height="24" fill="#f23645"/>
<rect x="459" y="127" width="1" height="14" fill="#089981"/>
<rect x="458" y="133" width="3" height="2" fill="#089981"/>
<rect x="462" y="131" width="1" height="22" fill="#f23645"/>
<rect x="461" y="134" width="3" height="13" fill="#f23645"/>
<rect x="466" y="139" width="1" height="23" fill="#089981"/>
<rect x="465" y="139" width="3" height="8" fill="#089981"/>
<rect x="469" y="129" width="1" height="16" fill="#089981"/>
<rect x="468" y="134" width="3" height="7" fill="#089981"/>
<rect x="473" y="131" width="1" height="13" fill="#f23645"/>
<rect x="472" y="134" width="3" height="5" fill="#f23645"/>
<rect x="476" y="137" width="1" height="11" fill="#f23645"/>
<rect x="475" y="137" width="3" height="11" fill="#f23645"/>
<rect x="480" y="133" width="1" height="18" fill="#089981"/>
<rect x="479" y="138" width="3" height="10" fill="#089981"/>
<rect x="483" y="133" width="1" height="12" fill="#089981"/>
<rect x="482" y="135" width="3" height="4" fill="#089981"/>
<rect x="487" y="131" width="1" height="8" fill="#f23645"/>
<rect x="486" y="135" width="3" height="4" fill="#f23645"/>
<rect x="490" y="119" width="1" height="24" fill="#089981"/>
<rect x="489" y="125" width="3" height="14" fill="#089981"/>
<rect x="494" y="110" width="1" height="16" fill="#089981"/>
<rect x="493" y="112" width="3" height="14" fill="#089981"/>
<rect x="497" y="112" width="1" height="13" fill="#f23645"/>
<rect x="496" y="112" width="3" height="13" fill="#f23645"/>
<rect x="501" y="121" width="1" height="14" fill="#f23645"/>
<rect x="500" y="124" width="3" height="7" fill="#f23645"/>
<rect x="504" y="122" width="1" height="13" fill="#089981"/>
<rect x="503" y="124" width="3" height="7" fill="#089981"/>
<rect x="508" y="120" width="1" height="34" fill="#f23645"/>
<rect x="507" y="124" width="3" height="23" fill="#f23645"/>
<rect x="511" y="125" width="1" height="34" fill="#089981"/>
<rect x="510" y="131" width="3" height="16" fill="#089981"/>
<rect x="514" y="73" width="1" height="67" fill="#089981"/>
<rect x="513" y="83" width="3" height="48" fill="#089981"/>
<rect x="518" y="71" width="1" height="32" fill="#f23645"/>
<rect x="517" y="83" width="3" height="4" fill="#f23645"/>
<rect x="521" y="64" width="1" height="23" fill="#089981"/>
<rect x="520" y="74" width="3" height="13" fill="#089981"/>
<rect x="525" y="72" width="1" height="30" fill="#f23645"/>
<rect x="524" y="74" width="3" height="22" fill="#f23645"/>
<rect x="528" y="76" width="1" height="26" fill="#089981"/>
<rect x="527" y="85" width="3" height="11" fill="#089981"/>
<rect x="532" y="69" width="1" height="22" fill="#089981"/>
<rect x="531" y="71" width="3" height="16" fill="#089981"/>
<rect x="535" y="57" width="1" height="24" fill="#f23645"/>
<rect x="534" y="71" width="3" height="8" fill="#f23645"/>
<rect x="539" y="37" width="1" height="56" fill="#f23645"/>
<rect x="538" y="78" width="3" height="15" fill="#f23645"/>
<rect x="542" y="88" width="1" height="22" fill="#f23645"/>
<rect x="541" y="93" width="3" height="8" fill="#f23645"/>
<rect x="546" y="89" width="1" height="20" fill="#089981"/>
<rect x="545" y="92" width="3" height="9" fill="#089981"/>
<rect x="549" y="72" width="1" height="33" fill="#089981"/>
<rect x="548" y="83" width="3" height="10" fill="#089981"/>
<rect x="553" y="77" width="1" height="16" fill="#f23645"/>
<rect x="552" y="83" width="3" height="10" fill="#f23645"/>
<rect x="556" y="90" width="1" height="9" fill="#f23645"/>
<rect x="555" y="93" width="3" height="4" fill="#f23645"/>
<rect x="559" y="80" width="1" height="19" fill="#089981"/>
<rect x="558" y="85" width="3" height="12" fill="#089981"/>
<rect x="563" y="78" width="1" height="12" fill="#089981"/>
<rect x="562" y="84" width="3" height="1" fill="#089981"/>
<rect x="566" y="82" width="1" height="18" fill="#f23645"/>
<rect x="565" y="84" width="3" height="16" fill="#f23645"/>
<rect x="570" y="98" width="1" height="19" fill="#f23645"/>
<rect x="569" y="98" width="3" height="17" fill="#f23645"/>
<rect x="573" y="101" width="1" height="16" fill="#089981"/>
<rect x="572" y="109" width="3" height="6" fill="#089981"/>
<rect x="577" y="96" width="1" height="13" fill="#089981"/>
<rect x="576" y="100" width="3" height="9" fill="#089981"/>
<rect x="580" y="93" width="1" height="11" fill="#089981"/>
<rect x="579" y="94" width="3" height="7" fill="#089981"/>
<rect x="584" y="78" width="1" height="17" fill="#089981"/>
<rect x="583" y="84" width="3" height="11" fill="#089981"/>
<rect x="587" y="69" width="1" height="20" fill="#089981"/>
<rect x="586" y="78" width="3" height="11" fill="#089981"/>
<rect x="591" y="71" width="1" height="24" fill="#089981"/>
<rect x="590" y="75" width="3" height="6" fill="#089981"/>
<rect x="594" y="36" width="1" height="40" fill="#089981"/>
<rect x="593" y="48" width="3" height="28" fill="#089981"/>
<rect x="598" y="30" width="1" height="42" fill="#f23645"/>
<rect x="597" y="48" width="3" height="21" fill="#f23645"/>
<rect x="601" y="40" width="1" height="32" fill="#089981"/>
<rect x="600" y="43" width="3" height="27" fill="#089981"/>
<rect x="605" y="37" width="1" height="8" fill="#089981"/>
<rect x="604" y="38" width="3" height="7" fill="#089981"/>
<rect x="608" y="36" width="1" height="10" fill="#f23645"/>
<rect x="607" y="38" width="3" height="1" fill="#f23645"/>
<rect x="611" y="31" width="1" height="17" fill="#089981"/>
<rect x="610" y="33" width="3" height="6" fill="#089981"/>
<rect x="615" y="25" width="1" height="16" fill="#089981"/>
<rect x="614" y="25" width="3" height="8" fill="#089981"/>
<rect x="618" y="26" width="1" height="20" fill="#f23645"/>
<rect x="617" y="26" width="3" height="7" fill="#f23645"/>
<rect x="622" y="32" width="1" height="25" fill="#f23645"/>
<rect x="621" y="34" width="3" height="16" fill="#f23645"/>
<rect x="625" y="45" width="1" height="8" fill="#089981"/>
<rect x="624" y="45" width="3" height="5" fill="#089981"/>
<rect x="629" y="45" width="1" height="8" fill="#f23645"/>
<rect x="628" y="45" width="3" height="7" fill="#f23645"/>
<rect x="632" y="43" width="1" height="16" fill="#089981"/>
<rect x="631" y="45" width="3" height="7" fill="#089981"/>
<rect x="636" y="39" width="1" height="9" fill="#089981"/>
<rect x="635" y="46" width="3" height="1" fill="#089981"/>
<rect x="639" y="40" width="1" height="12" fill="#f23645"/>
<rect x="638" y="45" width="3" height="6" fill="#f23645"/>
<rect x="643" y="45" width="1" height="12" fill="#f23645"/>
<rect x="642" y="50" width="3" height="4" fill="#f23645"/>
<rect x="646" y="52" width="1" height="6" fill="#f23645"/>
<rect x="645" y="52" width="3" height="4" fill="#f23645"/>
<rect x="650" y="54" width="1" height="7" fill="#089981"/>
<rect x="649" y="55" width="3" height="1" fill="#089981"/>
</g>
<rect x="294" y="11" width="388" height="22" fill="#131722" opacity="0.62"/>
<circle cx="22.1" cy="21.1" r="9.1" fill="#f7931a"/>
<g transform="translate(22.3 21.2) rotate(14)"><text x="0" y="3.8" text-anchor="middle" font-size="10.5" font-weight="bold" fill="#fff">B</text><path d="M-1.5 -5.4V-3.4M0.6 -5.4V-3.4M-1.5 3.6V5.6M0.6 3.6V5.6" stroke="#fff" stroke-width="1.1"/></g>
<text x="35.2" y="26.8" font-size="15" fill="#c0c3cc" stroke="#c0c3cc" stroke-width="0.25" textLength="48.6" lengthAdjust="spacingAndGlyphs">Bitcoin</text>
<text x="91.3" y="26.8" font-size="15" fill="#c0c3cc" stroke="#c0c3cc" stroke-width="0.25" textLength="5" lengthAdjust="spacingAndGlyphs">/</text>
<text x="103.8" y="26.8" font-size="15" fill="#c0c3cc" stroke="#c0c3cc" stroke-width="0.25" textLength="62" lengthAdjust="spacingAndGlyphs">TetherUS</text>
<text x="180" y="26.8" font-size="15" fill="#c0c3cc" stroke="#c0c3cc" stroke-width="0.25" textLength="15.2" lengthAdjust="spacingAndGlyphs">1h</text>
<text x="208.2" y="26.8" font-size="15" fill="#c0c3cc" stroke="#c0c3cc" stroke-width="0.25" textLength="55.5" lengthAdjust="spacingAndGlyphs">Binance</text>
<rect x="171.2" y="20.6" width="2.5" height="2.5" fill="#c0c3cc"/><rect x="200.3" y="20.6" width="2.5" height="2.5" fill="#c0c3cc"/>
<circle cx="281" cy="21" r="9" fill="#14322f"/><circle cx="281" cy="21" r="4.1" fill="#0b7b6b"/>
<text x="297.6" y="26.1" font-size="13" fill="#c0c3cc" stroke="#c0c3cc" stroke-width="0.25" textLength="67.4" lengthAdjust="spacingAndGlyphs">O<tspan fill="#089981" stroke="#089981">72,722.28</tspan></text>
<text x="370.9" y="26.1" font-size="13" fill="#c0c3cc" stroke="#c0c3cc" stroke-width="0.25" textLength="66.5" lengthAdjust="spacingAndGlyphs">H<tspan fill="#089981" stroke="#089981">72,756.77</tspan></text>
<text x="444.2" y="26.1" font-size="13" fill="#c0c3cc" stroke="#c0c3cc" stroke-width="0.25" textLength="63.5" lengthAdjust="spacingAndGlyphs">L<tspan fill="#089981" stroke="#089981">72,612.16</tspan></text>
<text x="515" y="26.1" font-size="13" fill="#c0c3cc" stroke="#c0c3cc" stroke-width="0.25" textLength="65.1" lengthAdjust="spacingAndGlyphs">C<tspan fill="#089981" stroke="#089981">72,742.88</tspan></text>
<text x="587.5" y="26.1" font-size="13" fill="#089981" stroke="#089981" stroke-width="0.25" textLength="90.5" lengthAdjust="spacingAndGlyphs">+20.60 (+0.03%)</text>
<rect x="13.5" y="37.5" width="79" height="33" rx="4.5" fill="#0f0f0f" stroke="#f23645" stroke-width="1"/>
<text x="53" y="51.3" font-size="13" font-weight="bold" fill="#f23645" text-anchor="middle" textLength="57" lengthAdjust="spacingAndGlyphs">72,742.87</text>
<text x="53" y="65.5" font-size="12" fill="#f23645" text-anchor="middle" textLength="23.5" lengthAdjust="spacingAndGlyphs">SELL</text>
<text x="110" y="57" font-size="10.5" font-weight="bold" fill="#e6e6e6" text-anchor="middle" textLength="19" lengthAdjust="spacingAndGlyphs">0.01</text>
<rect x="128.5" y="37.5" width="79" height="33" rx="4.5" fill="#0f0f0f" stroke="#2962ff" stroke-width="1"/>
<text x="168.5" y="51.3" font-size="13" font-weight="bold" fill="#2962ff" text-anchor="middle" textLength="57" lengthAdjust="spacingAndGlyphs">72,742.88</text>
<text x="168" y="65.5" font-size="12" fill="#2962ff" text-anchor="middle" textLength="20" lengthAdjust="spacingAndGlyphs">BUY</text>
<rect x="13.5" y="78.5" width="31" height="20" rx="3" fill="#131722" stroke="#45423f" stroke-width="1"/>
<path d="M19.6 86.6 L23.5 90.3 L27.4 86.6" fill="none" stroke="#dcdcdc" stroke-width="1.3"/>
<text x="36.4" y="93" font-size="13" fill="#e0e0e0" text-anchor="middle">6</text>
<text x="757.8" y="48.7" font-size="12" fill="#b2b5be" stroke="#b2b5be" stroke-width="0.3" textLength="53" lengthAdjust="spacingAndGlyphs">73,000.00</text>
<text x="757.8" y="94.3" font-size="12" fill="#b2b5be" stroke="#b2b5be" stroke-width="0.3" textLength="53" lengthAdjust="spacingAndGlyphs">72,000.00</text>
<text x="757.8" y="140.3" font-size="12" fill="#b2b5be" stroke="#b2b5be" stroke-width="0.3" textLength="53" lengthAdjust="spacingAndGlyphs">71,000.00</text>
<text x="757.8" y="187.7" font-size="12" fill="#b2b5be" stroke="#b2b5be" stroke-width="0.3" textLength="53" lengthAdjust="spacingAndGlyphs">70,000.00</text>
<text x="757.8" y="234.0" font-size="12" fill="#b2b5be" stroke="#b2b5be" stroke-width="0.3" textLength="53" lengthAdjust="spacingAndGlyphs">69,000.00</text>
<text x="757.8" y="281.3" font-size="12" fill="#b2b5be" stroke="#b2b5be" stroke-width="0.3" textLength="53" lengthAdjust="spacingAndGlyphs">68,000.00</text>
<text x="757.8" y="327.6" font-size="12" fill="#b2b5be" stroke="#b2b5be" stroke-width="0.3" textLength="53" lengthAdjust="spacingAndGlyphs">67,000.00</text>
<text x="757.8" y="402.5" font-size="12" fill="#b2b5be" stroke="#b2b5be" stroke-width="0.3" textLength="15.4" lengthAdjust="spacingAndGlyphs">2K</text>
<text x="70.6" y="449.6" font-size="12" fill="#b2b5be" stroke="#b2b5be" stroke-width="0.3" text-anchor="middle">4</text>
<text x="153.6" y="449.6" font-size="12" fill="#b2b5be" stroke="#b2b5be" stroke-width="0.3" text-anchor="middle">5</text>
<text x="236.6" y="449.6" font-size="12" fill="#b2b5be" stroke="#b2b5be" stroke-width="0.3" text-anchor="middle">6</text>
<text x="319.6" y="449.6" font-size="12" fill="#b2b5be" stroke="#b2b5be" stroke-width="0.3" text-anchor="middle">7</text>
<text x="403.6" y="449.6" font-size="12" fill="#b2b5be" stroke="#b2b5be" stroke-width="0.3" text-anchor="middle">8</text>
<text x="486.6" y="449.6" font-size="12" fill="#b2b5be" stroke="#b2b5be" stroke-width="0.3" text-anchor="middle">9</text>
<text x="570.3" y="449.6" font-size="12" fill="#b2b5be" stroke="#b2b5be" stroke-width="0.3" text-anchor="middle">10</text>
<text x="653.3" y="449.6" font-size="12" fill="#b2b5be" stroke="#b2b5be" stroke-width="0.3" text-anchor="middle">11</text>
<text x="736.3" y="449.6" font-size="12" fill="#b2b5be" stroke="#b2b5be" stroke-width="0.3" text-anchor="middle">12</text>
<rect x="692" y="47" width="57" height="17" rx="2" fill="#089981"/>
<text x="696.3" y="59.6" font-size="12" fill="#fff" stroke="#fff" stroke-width="0.3" textLength="47.4" lengthAdjust="spacingAndGlyphs">BTCUSDT</text>
<rect x="750" y="47" width="66" height="31" rx="2" fill="#089981"/>
<text x="758" y="58.8" font-size="12" fill="#fff" stroke="#fff" stroke-width="0.4" textLength="52.5" lengthAdjust="spacingAndGlyphs">72,742.88</text>
<text x="758" y="72.7" font-size="12" fill="#c4e6df" textLength="29" lengthAdjust="spacingAndGlyphs">09:13</text>
<rect x="753.5" y="9.5" width="63" height="25" rx="4" fill="#0f0f0f" stroke="#434343" stroke-width="1"/>
<text x="757" y="25.8" font-size="12" fill="#fff" stroke="#fff" stroke-width="0.3" textLength="27" lengthAdjust="spacingAndGlyphs">USDT</text>
<path d="M807.2 21 L809.8 23.6 L812.4 21" fill="none" stroke="#e6e6e6" stroke-width="1.3"/>
<circle cx="650.5" cy="353.5" r="9.8" fill="#0f0f0f" stroke="#b84fd0" stroke-width="1.5"/>
<path d="M653 347.9 L646.2 354.2 L650 354.2 L647.3 359.6 L654.8 352.7 L650.9 352.7 Z" fill="#c050d8"/>
<circle cx="657.4" cy="346.6" r="4.1" fill="#0f0f0f"/><circle cx="657.4" cy="346.6" r="2.7" fill="#f23645"/>
</svg>
</body></html>
